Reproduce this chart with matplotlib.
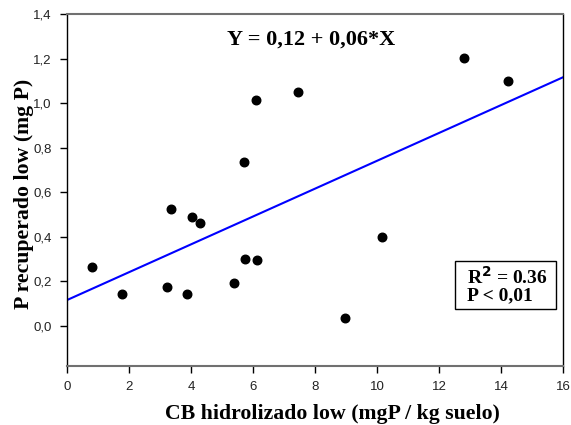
import matplotlib
matplotlib.use("Agg")
import matplotlib.pyplot as plt
import numpy as np
from matplotlib.patches import Rectangle
from matplotlib.ticker import FuncFormatter

cb_hidrolizado = [0.80, 1.77, 3.21, 3.37, 3.88, 4.03, 4.30, 5.40, 5.74, 6.12,
                  5.72, 6.09, 7.44, 10.17, 8.98, 12.82, 14.23]
p_recuperado = [0.263, 0.143, 0.173, 0.526, 0.141, 0.491, 0.461, 0.191, 0.300, 0.296,
                0.736, 1.015, 1.050, 0.398, 0.035, 1.204, 1.101]

# fitted regression line
intercept = 0.116
slope = 0.0625
line_x = [0, 16]

x_ticks = [0, 2, 4, 6, 8, 10, 12, 14, 16]
y_ticks = [0.0, 0.2, 0.4, 0.6, 0.8, 1.0, 1.2, 1.4]

serif = ["Liberation Serif", "DejaVu Serif"]
sans = ["Liberation Sans", "DejaVu Sans"]

fig = plt.figure(figsize=(5.71, 4.25), dpi=100)
ax = fig.add_axes([67 / 571, 1 - 366 / 425, (563 - 67) / 571, (366 - 14) / 425])

line_y = [intercept + slope * v for v in line_x]
ax.plot(line_x, line_y, color="#0000ff", lw=1.5, zorder=2)
ax.scatter(cb_hidrolizado, p_recuperado, s=38, color="black", zorder=3)

ax.set_xlim(0, 16)
ax.set_ylim(-0.18, 1.4)
ax.set_xticks(x_ticks)
ax.set_yticks(y_ticks)
ax.xaxis.set_major_formatter(FuncFormatter(lambda v, p: "%d" % v))
ax.yaxis.set_major_formatter(FuncFormatter(lambda v, p: ("%.1f" % v).replace(".", ",")))
ax.tick_params(direction="out", length=5, width=1, labelsize=9.5, colors="black", pad=6)
for lab in ax.get_xticklabels() + ax.get_yticklabels():
    lab.set_family(sans)
    lab.set_color("#222222")

for side in ["left", "right"]:
    ax.spines[side].set_color("black")
    ax.spines[side].set_linewidth(1.0)
for side in ["top", "bottom"]:
    ax.spines[side].set_color("#707070")
    ax.spines[side].set_linewidth(1.5)

ax.set_xlabel("CB hidrolizado low (mgP / kg suelo)", family=serif, fontsize=15.7,
              fontweight="bold")
ax.set_ylabel("P recuperado low (mg P)", family=serif, fontsize=15.7,
              fontweight="bold")
ax.xaxis.set_label_coords(0.535, -0.108)
ax.yaxis.set_label_coords(-0.066, 0.49)

ax.text(0.492, 0.926, "Y = 0,12 + 0,06*X", transform=ax.transAxes, family=serif,
        fontsize=16, fontweight="bold", ha="center", va="center")

# stats box
ax.add_patch(Rectangle((0.782, 0.162), 0.203, 0.136, transform=ax.transAxes,
                       facecolor="white", edgecolor="black", lw=1, zorder=4))
ax.text(0.806, 0.23, "R$^{\\mathbf{2}}$ = 0.36\nP < 0,01", transform=ax.transAxes,
        family=serif, fontsize=14, fontweight="bold", ha="left", va="center",
        linespacing=1.0, zorder=5)

fig.savefig("out.png", dpi=100)
